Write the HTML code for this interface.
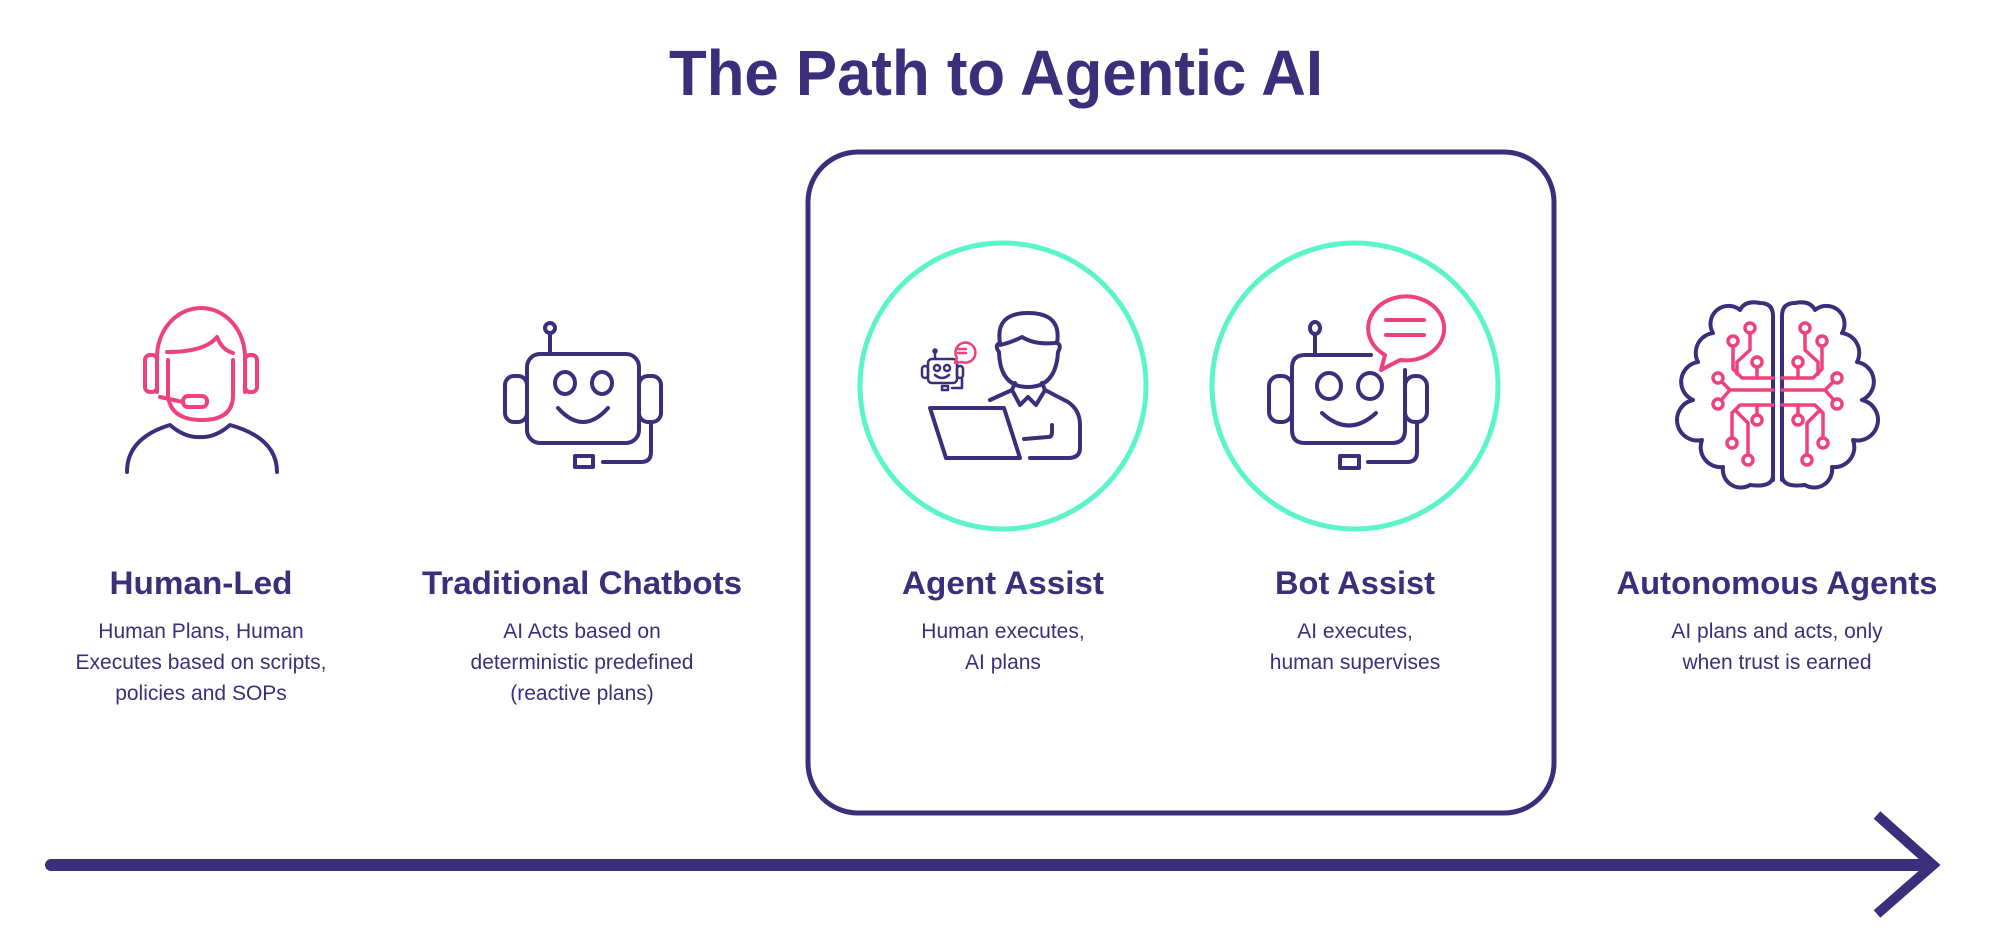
<!DOCTYPE html>
<html><head><meta charset="utf-8"><style>
html,body{margin:0;padding:0;background:#fff;}
svg{display:block;}
text{font-family:"Liberation Sans",Arial,sans-serif;fill:#3d2e7c;text-anchor:middle;}
.h{font-weight:bold;font-size:32px;}
.b{font-size:21px;}
</style></head><body>
<svg width="1991" height="937" viewBox="0 0 1991 937" xmlns="http://www.w3.org/2000/svg">
<text x="996" y="95" font-size="64" font-weight="bold" textLength="654" lengthAdjust="spacingAndGlyphs">The Path to Agentic AI</text>

<rect x="808" y="152" width="746" height="661" rx="50" fill="none" stroke="#3d2e7c" stroke-width="5"/>
<circle cx="1003" cy="386" r="143" fill="none" stroke="#5af5c9" stroke-width="5"/>
<circle cx="1355" cy="386" r="143" fill="none" stroke="#5af5c9" stroke-width="5"/>

<!-- arrow -->
<line x1="51" y1="865" x2="1930" y2="865" stroke="#3d2e7c" stroke-width="12" stroke-linecap="round"/>
<polyline points="1877,815 1933,865 1877,914" fill="none" stroke="#3d2e7c" stroke-width="10"/>

<g fill="none" stroke-width="4" stroke-linecap="round" stroke-linejoin="round">
<!-- Human-led -->
<g stroke="#f0427a">
<path d="M157,392 L157,357 A44,49 0 0 1 245,357 L245,392"/>
<rect x="145" y="355" width="12" height="37" rx="5"/>
<rect x="245" y="355" width="12" height="37" rx="5"/>
<path d="M167,352 Q205,352 217,337 Q222,350 233,353"/>
<path d="M168,360 L168,395 Q170,420 202,420 Q233,420 233,395 L233,360"/>
<path d="M160,397 L183,402"/>
<rect x="183" y="396" width="24" height="11" rx="5"/>
</g>
<path stroke="#3d2e7c" d="M127,472 Q127,438 170,425 Q185,438 200,437 Q215,438 230,425 Q277,438 277,472"/>

<!-- Traditional chatbot -->
<g stroke="#3d2e7c">
<circle cx="550" cy="328" r="5"/>
<line x1="550" y1="334" x2="550" y2="354"/>
<rect x="527" y="354" width="112" height="89" rx="13"/>
<rect x="505" y="376" width="22" height="46" rx="9"/>
<rect x="639" y="376" width="22" height="46" rx="9"/>
<ellipse cx="565" cy="383" rx="10" ry="11"/>
<ellipse cx="602" cy="383" rx="10" ry="11"/>
<path d="M558,408 Q583,436 608,408"/>
<path d="M651,422 L651,452 Q651,462 641,462 L603,462"/>
<rect x="575" y="456" width="18" height="11"/>
</g>

<!-- Agent assist person -->
<g stroke="#3d2e7c">
<path d="M1000,343 Q995,313 1028,313 Q1062,313 1057,343 Q1062,345 1058,352 Q1056,387 1028,387 Q1000,387 999,352 Q994,345 1000,343 Z"/>
<path d="M1000,345 Q1010,343 1022,337 Q1035,345 1055,343"/>
<path d="M1015,383 L1012,390 L990,400"/>
<path d="M1042,383 L1045,390 L1068,402 Q1080,410 1080,425 L1080,448 Q1080,458 1068,458 L1030,458"/>
<path d="M1012,390 L1020,405 L1028,397 L1036,405 L1045,390"/>
<path d="M930,408 L1004,408 L1020,458 L946,458 Z"/>
<path d="M1024,439 L1048,437 Q1052,437 1052,432 L1052,425"/>
<!-- small robot -->
<g stroke-width="2.5">
<line x1="935" y1="352" x2="935" y2="359"/>
<circle cx="935" cy="351" r="1.5"/>
<rect x="928" y="359" width="29" height="24" rx="4"/>
<rect x="922" y="366" width="6" height="12" rx="3"/>
<rect x="957" y="366" width="6" height="12" rx="3"/>
<circle cx="937" cy="368" r="3"/><circle cx="947" cy="368" r="3"/>
<path d="M935,375 Q942,381 949,375"/>
<path d="M962,378 L962,388 L952,388"/>
<rect x="942" y="386" width="6" height="4"/>
</g>
<g stroke="#f0427a" stroke-width="2.5">
<path d="M955,363 L957,358 A10,10 0 1 1 962,362 Z"/>
<line x1="958" y1="349" x2="966" y2="349"/><line x1="958" y1="353" x2="966" y2="353"/>
</g>
</g>

<!-- Bot assist -->
<g stroke="#3d2e7c">
<ellipse cx="1315" cy="328" rx="5" ry="6"/>
<line x1="1315" y1="334" x2="1315" y2="355"/>
<path d="M1371,355 L1305,355 Q1292,355 1292,368 L1292,430 Q1292,443 1305,443 L1392,443 Q1405,443 1405,430 L1405,370"/>
<rect x="1269" y="376" width="23" height="46" rx="10"/>
<rect x="1405" y="376" width="22" height="46" rx="10"/>
<ellipse cx="1329" cy="386" rx="12" ry="13"/>
<ellipse cx="1370" cy="386" rx="12" ry="13"/>
<path d="M1322,413 Q1349,438 1376,413"/>
<path d="M1417,422 L1417,452 Q1417,462 1407,462 L1368,462"/>
<rect x="1340" y="456" width="19" height="12"/>
</g>
<g stroke="#f0427a">
<path d="M1381,370 L1385,355 A38,32 0 1 1 1400,360 Z"/>
<line x1="1386" y1="320" x2="1424" y2="320"/>
<line x1="1386" y1="335" x2="1424" y2="335"/>
</g>

<!-- Brain -->
<g id="half">
<path stroke="#3d2e7c" d="M1773,480 L1773,316 Q1773,303 1760,303 Q1745,300 1740,310 A18,18 0 0 0 1713,333 A20,20 0 0 0 1698,362 A20,20 0 0 0 1693,400 A20,20 0 0 0 1702,440 A20,20 0 0 0 1723,467 A18,18 0 0 0 1750,485 Q1773,488 1773,475"/>
<g stroke="#f0427a" stroke-width="3.5">
<path d="M1773,390 L1730,390 L1722,382 M1730,390 L1722,399"/>
<circle cx="1718" cy="378" r="5"/><circle cx="1718" cy="404" r="5"/>
<path d="M1773,378 L1742,378 L1733,369 L1733,346"/><circle cx="1733" cy="341" r="5"/>
<path d="M1737,374 L1737,362 L1750,350 L1750,333"/><circle cx="1750" cy="328" r="5"/>
<path d="M1757,378 L1757,367"/><circle cx="1757" cy="362" r="5"/>
<path d="M1773,405 L1740,405 L1732,413 L1732,438"/><circle cx="1732" cy="443" r="5"/>
<path d="M1735,410 L1748,423 L1748,455"/><circle cx="1748" cy="460" r="5"/>
<path d="M1757,405 L1757,415"/><circle cx="1757" cy="420" r="5"/>
</g>
</g>
<use href="#half" transform="translate(3555,0) scale(-1,1)"/>
</g>

<!-- Labels -->
<text class="h" x="201" y="594" textLength="183" lengthAdjust="spacingAndGlyphs">Human-Led</text>
<text class="b" x="201" y="638">Human Plans, Human</text>
<text class="b" x="201" y="669">Executes based on scripts,</text>
<text class="b" x="201" y="700">policies and SOPs</text>

<text class="h" x="582" y="594" textLength="320" lengthAdjust="spacingAndGlyphs">Traditional Chatbots</text>
<text class="b" x="582" y="638">AI Acts based on</text>
<text class="b" x="582" y="669">deterministic predefined</text>
<text class="b" x="582" y="700">(reactive plans)</text>

<text class="h" x="1003" y="594" textLength="202" lengthAdjust="spacingAndGlyphs">Agent Assist</text>
<text class="b" x="1003" y="638">Human executes,</text>
<text class="b" x="1003" y="669">AI plans</text>

<text class="h" x="1355" y="594" textLength="160" lengthAdjust="spacingAndGlyphs">Bot Assist</text>
<text class="b" x="1355" y="638">AI executes,</text>
<text class="b" x="1355" y="669">human supervises</text>

<text class="h" x="1777" y="594" textLength="321" lengthAdjust="spacingAndGlyphs">Autonomous Agents</text>
<text class="b" x="1777" y="638">AI plans and acts, only</text>
<text class="b" x="1777" y="669">when trust is earned</text>
</svg>
</body></html>
